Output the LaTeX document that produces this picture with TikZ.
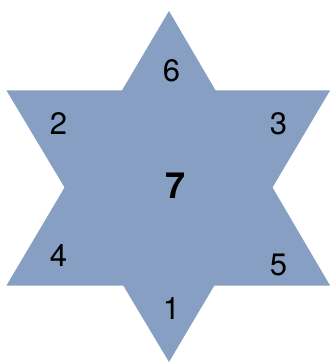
\documentclass[tikz,border=0pt]{standalone}
\usepackage{fontspec}
\setsansfont{TeX Gyre Heros}
\usetikzlibrary{positioning}
\definecolor{cStar}{HTML}{869FC3}
\tikzset{
  font=\sffamily,
  num/.style={font=\sffamily\fontsize{31}{34}\selectfont, text=black, inner sep=0pt},
  mid/.style={num, font=\sffamily\bfseries\fontsize{36}{40}\selectfont},
  tri/.style={fill=cStar, draw=none},
}
\begin{document}
\begin{tikzpicture}[x=1pt, y=-1pt]
\useasboundingbox (0,0) rectangle (330,363);

% ------------------------------------------------------------------ star
\coordinate (top)   at (169,11);
\coordinate (bot)   at (169,362);
\coordinate (ul)    at (6.5,90.5);
\coordinate (ur)    at (330,90.5);
\coordinate (ll)    at (6.5,285.5);
\coordinate (lr)    at (330,285.5);
\fill[tri] (top) -- (ll) -- (lr) -- cycle;
\fill[tri] (ul) -- (ur) -- (bot) -- cycle;

% ------------------------------------------------------------------ numbers
\node[num] (n6) at (171.5,70.5)  {6};
\node[num] (n2) at (58.5,124)    {2};
\node[num] (n3) at (278.5,124)   {3};
\node[mid] (n7) at (176,186)     {7};
\node[num] (n4) at (58.5,255.5)  {4};
\node[num] (n5) at (278.5,264.5) {5};
\node[num] (n1) at (171.5,309)   {1};

\end{tikzpicture}
\end{document}
